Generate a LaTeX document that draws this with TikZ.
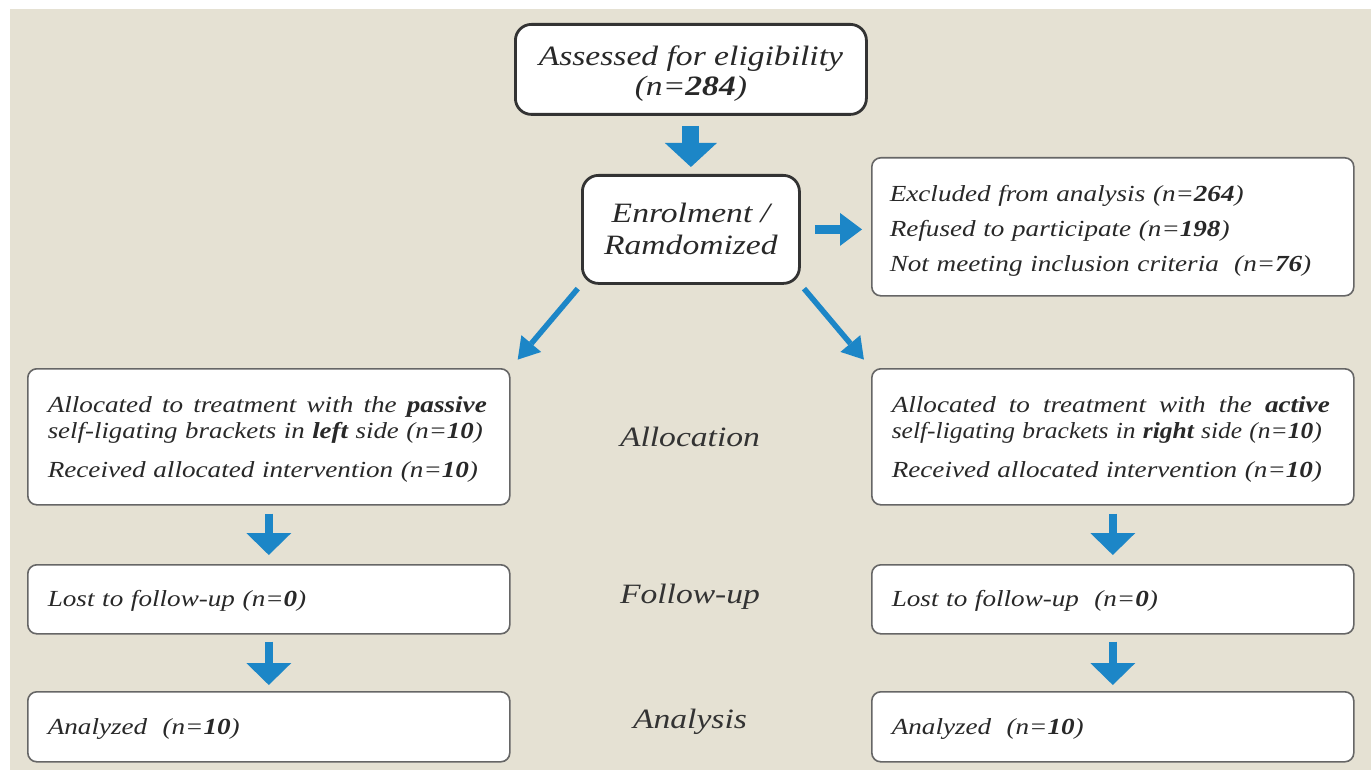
\documentclass[tikz,border=0pt]{standalone}
\usepackage{fontspec}
\usepackage{graphicx}
\setmainfont{Liberation Serif}[FakeStretch=1.18, WordSpace=0.55]
\newfontfamily\headfont{Liberation Serif}[FakeStretch=1.2]
\usetikzlibrary{arrows.meta,calc}
\definecolor{bg}{RGB}{229,225,211}
\definecolor{arrowblue}{RGB}{28,134,199}
\definecolor{txt}{RGB}{40,40,40}
\newcommand\jline[2]{\makebox[#1][s]{\spaceskip=4pt plus 1fil\relax #2}}
\newcommand\fitline[2]{\resizebox{#1}{\height}{#2}}
\tikzset{
  mainbox/.style={draw=black!80, line width=2.8pt, rounded corners=16pt, fill=white,
    align=center, anchor=north west, inner sep=0pt, text=txt,
    font=\headfont\fontsize{28}{30}\selectfont\itshape},
  flowbox/.style={draw=black!60, line width=1.6pt, rounded corners=9pt, fill=white,
    anchor=north west, inner xsep=20pt, inner ysep=0pt, align=left, text=txt,
    minimum width=482pt, text width=442pt,
    font=\fontsize{23}{26}\selectfont\itshape},
  stage/.style={text=black!80, font=\headfont\fontsize{28}{30}\selectfont\itshape},
  bigarrow/.style={draw=arrowblue, line width=17pt,
    -{Triangle[width=52pt,length=24pt,line width=0pt]}},
  sidearrow/.style={draw=arrowblue, line width=9pt,
    -{Triangle[width=33pt,length=22pt,line width=0pt]}},
  diagarrow/.style={draw=arrowblue, line width=5.5pt,
    -{Triangle[width=26pt,length=21pt,line width=0pt]}},
  downarrow/.style={draw=arrowblue, line width=8.5pt,
    -{Triangle[width=45pt,length=22pt,line width=0pt]}},
}
\begin{document}
\begin{tikzpicture}[x=1pt,y=-1pt]
  \useasboundingbox (0,0) rectangle (1371,770);
  \fill[white] (0,0) rectangle (1371,770);
  \fill[bg] (10,9) rectangle (1371,770);

  \node[mainbox, minimum width=351pt, minimum height=90pt] (assess) at (514,23)
    {\rule{0pt}{28pt}Assessed for eligibility\\(n=\textbf{284})};
  \node[mainbox, minimum width=217pt, minimum height=108pt] (enrol) at (581,174)
    {\rule{0pt}{18pt}Enrolment /\\[2pt]Ramdomized};
  \node[flowbox, minimum height=138pt, inner xsep=18pt, text width=446pt,
        font=\fontsize{23}{35}\selectfont\itshape] (excl) at (871,157)
    {\rule{0pt}{24pt}Excluded from analysis (n=\textbf{264})\\
     Refused to participate (n=\textbf{198})\\
     Not meeting inclusion criteria~~(n=\textbf{76})};

  \node[flowbox, minimum height=136pt] (allocL) at (27,368)
    {\rule{0pt}{22pt}\jline{439pt}{Allocated to treatment with the \textbf{passive}}\\
     \fitline{435pt}{self-ligating brackets in \textbf{left} side (n=\textbf{10})}\\[13pt]
     Received allocated intervention (n=\textbf{10})};
  \node[flowbox, minimum height=136pt] (allocR) at (871,368)
    {\rule{0pt}{22pt}\jline{438pt}{Allocated to treatment with the \textbf{active}}\\
     \fitline{430pt}{self-ligating brackets in \textbf{right} side (n=\textbf{10})}\\[13pt]
     Received allocated intervention (n=\textbf{10})};

  \node[flowbox, minimum height=69pt] (folL) at (27,564) {\rule{0pt}{20pt}Lost to follow-up (n=\textbf{0})};
  \node[flowbox, minimum height=69pt] (folR) at (871,564) {\rule{0pt}{20pt}Lost to follow-up~~(n=\textbf{0})};
  \node[flowbox, minimum height=70pt] (anaL) at (27,691) {\rule{0pt}{20pt}Analyzed~~(n=\textbf{10})};
  \node[flowbox, minimum height=70pt] (anaR) at (871,691) {\rule{0pt}{20pt}Analyzed~~(n=\textbf{10})};

  \node[stage] (lalloc) at (690,437) {Allocation};
  \node[stage] (lfol) at (690,597) {Follow-up};
  \node[stage] (lana) at (690,722) {Analysis};

  \draw[bigarrow, shorten <=10pt, shorten >=7pt] (assess.south) -- (enrol.north);
  \draw[sidearrow, shorten <=14pt, shorten >=9pt] (enrol.east) -- (enrol.east -| excl.west);
  \draw[diagarrow, shorten <=5pt, shorten >=11pt] (enrol.south west) -- (allocL.north east);
  \draw[diagarrow, shorten <=5pt, shorten >=11pt] (enrol.south east) -- (allocR.north west);
  \draw[downarrow, shorten <=8pt, shorten >=9pt] (allocL.south) -- (folL.north);
  \draw[downarrow, shorten <=8pt, shorten >=9pt] (allocR.south) -- (folR.north);
  \draw[downarrow, shorten <=7pt, shorten >=6pt] (folL.south) -- (anaL.north);
  \draw[downarrow, shorten <=7pt, shorten >=6pt] (folR.south) -- (anaR.north);
\end{tikzpicture}
\end{document}
